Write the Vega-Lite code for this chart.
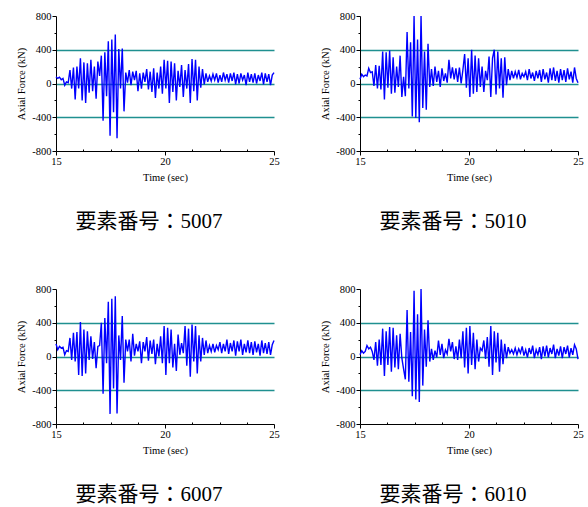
{
  "$schema": "https://vega.github.io/schema/vega-lite/v6.json",
  "background": "white",
  "padding": {"left": 16, "top": 11, "right": 5, "bottom": 5},
  "config": {
    "view": {"stroke": null},
    "axis": {
      "domainColor": "#000", "tickColor": "#000", "labelColor": "#000", "titleColor": "#000",
      "labelFont": "Liberation Serif", "titleFont": "Liberation Serif",
      "labelFontSize": 10.5, "titleFontSize": 10.5, "titleFontWeight": "normal",
      "domainWidth": 1, "tickWidth": 1, "labelPadding": 1
    },
    "axisX": {"titlePadding": 6},
    "axisY": {"titlePadding": 5},
    "title": {"font": "Liberation Serif, Noto Sans CJK JP", "fontSize": 21, "fontWeight": "normal", "color": "#000", "orient": "bottom", "offset": 28, "dx": -16}
  },
  "datasets": {
    "d": [
      {"t":15.00,"a":80,"b":50,"c":150,"d":20},
      {"t":15.08,"a":60,"b":110,"c":80,"d":70},
      {"t":15.16,"a":75,"b":80,"c":120,"d":40},
      {"t":15.24,"a":45,"b":100,"c":100,"d":60},
      {"t":15.32,"a":60,"b":90,"c":110,"d":130},
      {"t":15.40,"a":-20,"b":180,"c":20,"d":90},
      {"t":15.48,"a":20,"b":130,"c":70,"d":110},
      {"t":15.56,"a":10,"b":140,"c":60,"d":60},
      {"t":15.64,"a":160,"b":-30,"c":220,"d":-40},
      {"t":15.72,"a":-60,"b":220,"c":-40,"d":170},
      {"t":15.80,"a":190,"b":-60,"c":280,"d":-110},
      {"t":15.88,"a":-190,"b":210,"c":-60,"d":200},
      {"t":15.96,"a":200,"b":-70,"c":290,"d":-100},
      {"t":16.04,"a":-60,"b":380,"c":-220,"d":330},
      {"t":16.12,"a":300,"b":-190,"c":410,"d":-230},
      {"t":16.20,"a":-200,"b":370,"c":-230,"d":300},
      {"t":16.28,"a":250,"b":-50,"c":320,"d":-100},
      {"t":16.36,"a":-230,"b":390,"c":-200,"d":350},
      {"t":16.44,"a":240,"b":-120,"c":300,"d":-180},
      {"t":16.52,"a":-110,"b":310,"c":-40,"d":340},
      {"t":16.60,"a":280,"b":-110,"c":240,"d":-130},
      {"t":16.68,"a":-90,"b":200,"c":-30,"d":250},
      {"t":16.76,"a":200,"b":-40,"c":170,"d":-150},
      {"t":16.84,"a":-180,"b":330,"c":-140,"d":270},
      {"t":16.92,"a":260,"b":-160,"c":120,"d":-20},
      {"t":17.00,"a":90,"b":80,"c":130,"d":-150},
      {"t":17.08,"a":330,"b":-150,"c":400,"d":-270},
      {"t":17.16,"a":-440,"b":610,"c":-440,"d":550},
      {"t":17.24,"a":370,"b":-60,"c":455,"d":-300},
      {"t":17.32,"a":-150,"b":490,"c":-80,"d":290},
      {"t":17.40,"a":500,"b":-390,"c":650,"d":-470},
      {"t":17.48,"a":-620,"b":800,"c":-680,"d":780},
      {"t":17.56,"a":520,"b":-410,"c":685,"d":-510},
      {"t":17.64,"a":-340,"b":520,"c":-380,"d":500},
      {"t":17.72,"a":580,"b":-460,"c":715,"d":-540},
      {"t":17.80,"a":-650,"b":800,"c":-675,"d":800},
      {"t":17.88,"a":410,"b":-290,"c":250,"d":-345},
      {"t":17.96,"a":-60,"b":380,"c":-40,"d":320},
      {"t":18.04,"a":415,"b":-310,"c":480,"d":-120},
      {"t":18.12,"a":-330,"b":470,"c":-310,"d":430},
      {"t":18.20,"a":130,"b":-40,"c":200,"d":-60},
      {"t":18.28,"a":10,"b":170,"c":60,"d":90},
      {"t":18.36,"a":160,"b":-30,"c":200,"d":-40},
      {"t":18.44,"a":-20,"b":200,"c":-60,"d":70},
      {"t":18.52,"a":140,"b":20,"c":270,"d":-10},
      {"t":18.60,"a":40,"b":150,"c":10,"d":190},
      {"t":18.68,"a":150,"b":-40,"c":150,"d":20},
      {"t":18.76,"a":-90,"b":180,"c":60,"d":150},
      {"t":18.84,"a":120,"b":30,"c":180,"d":-20},
      {"t":18.92,"a":-60,"b":120,"c":-80,"d":80},
      {"t":19.00,"a":130,"b":10,"c":170,"d":30},
      {"t":19.08,"a":20,"b":280,"c":60,"d":210},
      {"t":19.16,"a":170,"b":60,"c":230,"d":60},
      {"t":19.24,"a":-70,"b":190,"c":-50,"d":170},
      {"t":19.32,"a":140,"b":50,"c":190,"d":-30},
      {"t":19.40,"a":-100,"b":180,"c":30,"d":120},
      {"t":19.48,"a":180,"b":20,"c":200,"d":-40},
      {"t":19.56,"a":-170,"b":190,"c":-90,"d":200},
      {"t":19.64,"a":130,"b":0,"c":150,"d":-20},
      {"t":19.72,"a":-60,"b":160,"c":0,"d":300},
      {"t":19.80,"a":200,"b":350,"c":240,"d":-130},
      {"t":19.88,"a":-120,"b":-50,"c":-80,"d":340},
      {"t":19.96,"a":280,"b":300,"c":360,"d":-200},
      {"t":20.04,"a":-60,"b":-160,"c":-220,"d":360},
      {"t":20.12,"a":270,"b":400,"c":340,"d":-100},
      {"t":20.20,"a":-230,"b":-120,"c":-80,"d":280},
      {"t":20.28,"a":260,"b":330,"c":320,"d":-150},
      {"t":20.36,"a":-100,"b":-100,"c":-130,"d":200},
      {"t":20.44,"a":240,"b":300,"c":150,"d":-60},
      {"t":20.52,"a":-200,"b":-40,"c":-170,"d":100},
      {"t":20.60,"a":150,"b":200,"c":260,"d":70},
      {"t":20.68,"a":-40,"b":-100,"c":20,"d":190},
      {"t":20.76,"a":220,"b":150,"c":160,"d":-30},
      {"t":20.84,"a":-160,"b":40,"c":40,"d":230},
      {"t":20.92,"a":160,"b":320,"c":360,"d":-120},
      {"t":21.00,"a":-60,"b":-160,"c":-110,"d":360},
      {"t":21.08,"a":230,"b":300,"c":330,"d":-220},
      {"t":21.16,"a":-230,"b":400,"c":-240,"d":300},
      {"t":21.24,"a":290,"b":-130,"c":380,"d":-70},
      {"t":21.32,"a":-90,"b":380,"c":-60,"d":280},
      {"t":21.40,"a":280,"b":-60,"c":360,"d":-180},
      {"t":21.48,"a":-200,"b":300,"c":-200,"d":200},
      {"t":21.56,"a":200,"b":-170,"c":250,"d":-90},
      {"t":21.64,"a":-50,"b":310,"c":-60,"d":150},
      {"t":21.72,"a":170,"b":-20,"c":220,"d":-20},
      {"t":21.80,"a":-10,"b":170,"c":20,"d":110},
      {"t":21.88,"a":120,"b":40,"c":190,"d":40},
      {"t":21.96,"a":20,"b":150,"c":40,"d":80},
      {"t":22.04,"a":90,"b":60,"c":130,"d":30},
      {"t":22.12,"a":30,"b":140,"c":60,"d":100},
      {"t":22.20,"a":110,"b":70,"c":150,"d":20},
      {"t":22.28,"a":40,"b":160,"c":50,"d":90},
      {"t":22.36,"a":120,"b":50,"c":130,"d":40},
      {"t":22.44,"a":10,"b":120,"c":80,"d":120},
      {"t":22.52,"a":100,"b":80,"c":170,"d":10},
      {"t":22.60,"a":20,"b":140,"c":40,"d":80},
      {"t":22.68,"a":130,"b":40,"c":150,"d":-10},
      {"t":22.76,"a":40,"b":170,"c":60,"d":100},
      {"t":22.84,"a":110,"b":60,"c":200,"d":30},
      {"t":22.92,"a":10,"b":130,"c":30,"d":130},
      {"t":23.00,"a":120,"b":30,"c":160,"d":-20},
      {"t":23.08,"a":30,"b":150,"c":60,"d":80},
      {"t":23.16,"a":130,"b":60,"c":190,"d":20},
      {"t":23.24,"a":-10,"b":160,"c":10,"d":110},
      {"t":23.32,"a":110,"b":20,"c":180,"d":-30},
      {"t":23.40,"a":0,"b":170,"c":60,"d":120},
      {"t":23.48,"a":120,"b":50,"c":200,"d":0},
      {"t":23.56,"a":40,"b":130,"c":20,"d":130},
      {"t":23.64,"a":100,"b":10,"c":150,"d":-10},
      {"t":23.72,"a":-20,"b":180,"c":50,"d":100},
      {"t":23.80,"a":130,"b":40,"c":190,"d":30},
      {"t":23.88,"a":20,"b":190,"c":40,"d":140},
      {"t":23.96,"a":110,"b":30,"c":170,"d":-20},
      {"t":24.04,"a":10,"b":150,"c":20,"d":90},
      {"t":24.12,"a":120,"b":10,"c":180,"d":10},
      {"t":24.20,"a":0,"b":170,"c":50,"d":120},
      {"t":24.28,"a":100,"b":40,"c":150,"d":-20},
      {"t":24.36,"a":30,"b":160,"c":10,"d":110},
      {"t":24.44,"a":130,"b":20,"c":190,"d":30},
      {"t":24.52,"a":-10,"b":180,"c":40,"d":130},
      {"t":24.60,"a":120,"b":50,"c":160,"d":-10},
      {"t":24.68,"a":20,"b":140,"c":30,"d":100},
      {"t":24.76,"a":110,"b":10,"c":170,"d":20},
      {"t":24.84,"a":-20,"b":190,"c":20,"d":140},
      {"t":24.92,"a":100,"b":60,"c":140,"d":90},
      {"t":25.00,"a":130,"b":10,"c":190,"d":-30}
    ]
  },
  "spacing": 52,
  "vconcat": [
    {
      "spacing": 40,
      "hconcat": [
        {
          "data": {"name": "d"}, "width": 218, "height": 135,
          "title": {"text": "要素番号：5007"},
          "mark": {"type": "line", "color": "#0000ff", "strokeWidth": 1.4},
          "encoding": {
            "x": {"field": "t", "type": "quantitative", "scale": {"domain": [15, 25], "nice": false, "zero": false},
              "axis": {"title": "Time  (sec)", "values": [15, 16.25, 17.5, 18.75, 20, 21.25, 22.5, 23.75, 25], "labelExpr": "datum.value % 5 === 0 ? '' + datum.value : ''", "tickSize": {"condition": {"test": "datum.value % 5 !== 0", "value": -2}, "value": 4}, "grid": false, "labelFlush": false}},
            "y": {"field": "a", "type": "quantitative", "scale": {"domain": [-800, 800], "nice": false},
              "axis": {"title": "Axial Force  (kN)", "values": [-800, -600, -400, -200, 0, 200, 400, 600, 800], "labelExpr": "datum.value % 400 === 0 ? '' + datum.value : ''", "tickSize": {"condition": {"test": "datum.value % 400 !== 0", "value": 2}, "value": 4}, "grid": true, "gridColor": "#1f9090", "gridWidth": 1.3, "gridOpacity": {"condition": {"test": "datum.value % 400 === 0 && abs(datum.value) < 800", "value": 1}, "value": 0}}}
          }
        },
        {
          "data": {"name": "d"}, "width": 218, "height": 135,
          "title": {"text": "要素番号：5010"},
          "mark": {"type": "line", "color": "#0000ff", "strokeWidth": 1.4},
          "encoding": {
            "x": {"field": "t", "type": "quantitative", "scale": {"domain": [15, 25], "nice": false, "zero": false},
              "axis": {"title": "Time  (sec)", "values": [15, 16.25, 17.5, 18.75, 20, 21.25, 22.5, 23.75, 25], "labelExpr": "datum.value % 5 === 0 ? '' + datum.value : ''", "tickSize": {"condition": {"test": "datum.value % 5 !== 0", "value": -2}, "value": 4}, "grid": false, "labelFlush": false}},
            "y": {"field": "b", "type": "quantitative", "scale": {"domain": [-800, 800], "nice": false},
              "axis": {"title": "Axial Force  (kN)", "values": [-800, -600, -400, -200, 0, 200, 400, 600, 800], "labelExpr": "datum.value % 400 === 0 ? '' + datum.value : ''", "tickSize": {"condition": {"test": "datum.value % 400 !== 0", "value": 2}, "value": 4}, "grid": true, "gridColor": "#1f9090", "gridWidth": 1.3, "gridOpacity": {"condition": {"test": "datum.value % 400 === 0 && abs(datum.value) < 800", "value": 1}, "value": 0}}}
          }
        }
      ]
    },
    {
      "spacing": 40,
      "hconcat": [
        {
          "data": {"name": "d"}, "width": 218, "height": 135,
          "title": {"text": "要素番号：6007"},
          "mark": {"type": "line", "color": "#0000ff", "strokeWidth": 1.4},
          "encoding": {
            "x": {"field": "t", "type": "quantitative", "scale": {"domain": [15, 25], "nice": false, "zero": false},
              "axis": {"title": "Time  (sec)", "values": [15, 16.25, 17.5, 18.75, 20, 21.25, 22.5, 23.75, 25], "labelExpr": "datum.value % 5 === 0 ? '' + datum.value : ''", "tickSize": {"condition": {"test": "datum.value % 5 !== 0", "value": -2}, "value": 4}, "grid": false, "labelFlush": false}},
            "y": {"field": "c", "type": "quantitative", "scale": {"domain": [-800, 800], "nice": false},
              "axis": {"title": "Axial Force  (kN)", "values": [-800, -600, -400, -200, 0, 200, 400, 600, 800], "labelExpr": "datum.value % 400 === 0 ? '' + datum.value : ''", "tickSize": {"condition": {"test": "datum.value % 400 !== 0", "value": 2}, "value": 4}, "grid": true, "gridColor": "#1f9090", "gridWidth": 1.3, "gridOpacity": {"condition": {"test": "datum.value % 400 === 0 && abs(datum.value) < 800", "value": 1}, "value": 0}}}
          }
        },
        {
          "data": {"name": "d"}, "width": 218, "height": 135,
          "title": {"text": "要素番号：6010"},
          "mark": {"type": "line", "color": "#0000ff", "strokeWidth": 1.4},
          "encoding": {
            "x": {"field": "t", "type": "quantitative", "scale": {"domain": [15, 25], "nice": false, "zero": false},
              "axis": {"title": "Time  (sec)", "values": [15, 16.25, 17.5, 18.75, 20, 21.25, 22.5, 23.75, 25], "labelExpr": "datum.value % 5 === 0 ? '' + datum.value : ''", "tickSize": {"condition": {"test": "datum.value % 5 !== 0", "value": -2}, "value": 4}, "grid": false, "labelFlush": false}},
            "y": {"field": "d", "type": "quantitative", "scale": {"domain": [-800, 800], "nice": false},
              "axis": {"title": "Axial Force  (kN)", "values": [-800, -600, -400, -200, 0, 200, 400, 600, 800], "labelExpr": "datum.value % 400 === 0 ? '' + datum.value : ''", "tickSize": {"condition": {"test": "datum.value % 400 !== 0", "value": 2}, "value": 4}, "grid": true, "gridColor": "#1f9090", "gridWidth": 1.3, "gridOpacity": {"condition": {"test": "datum.value % 400 === 0 && abs(datum.value) < 800", "value": 1}, "value": 0}}}
          }
        }
      ]
    }
  ]
}
